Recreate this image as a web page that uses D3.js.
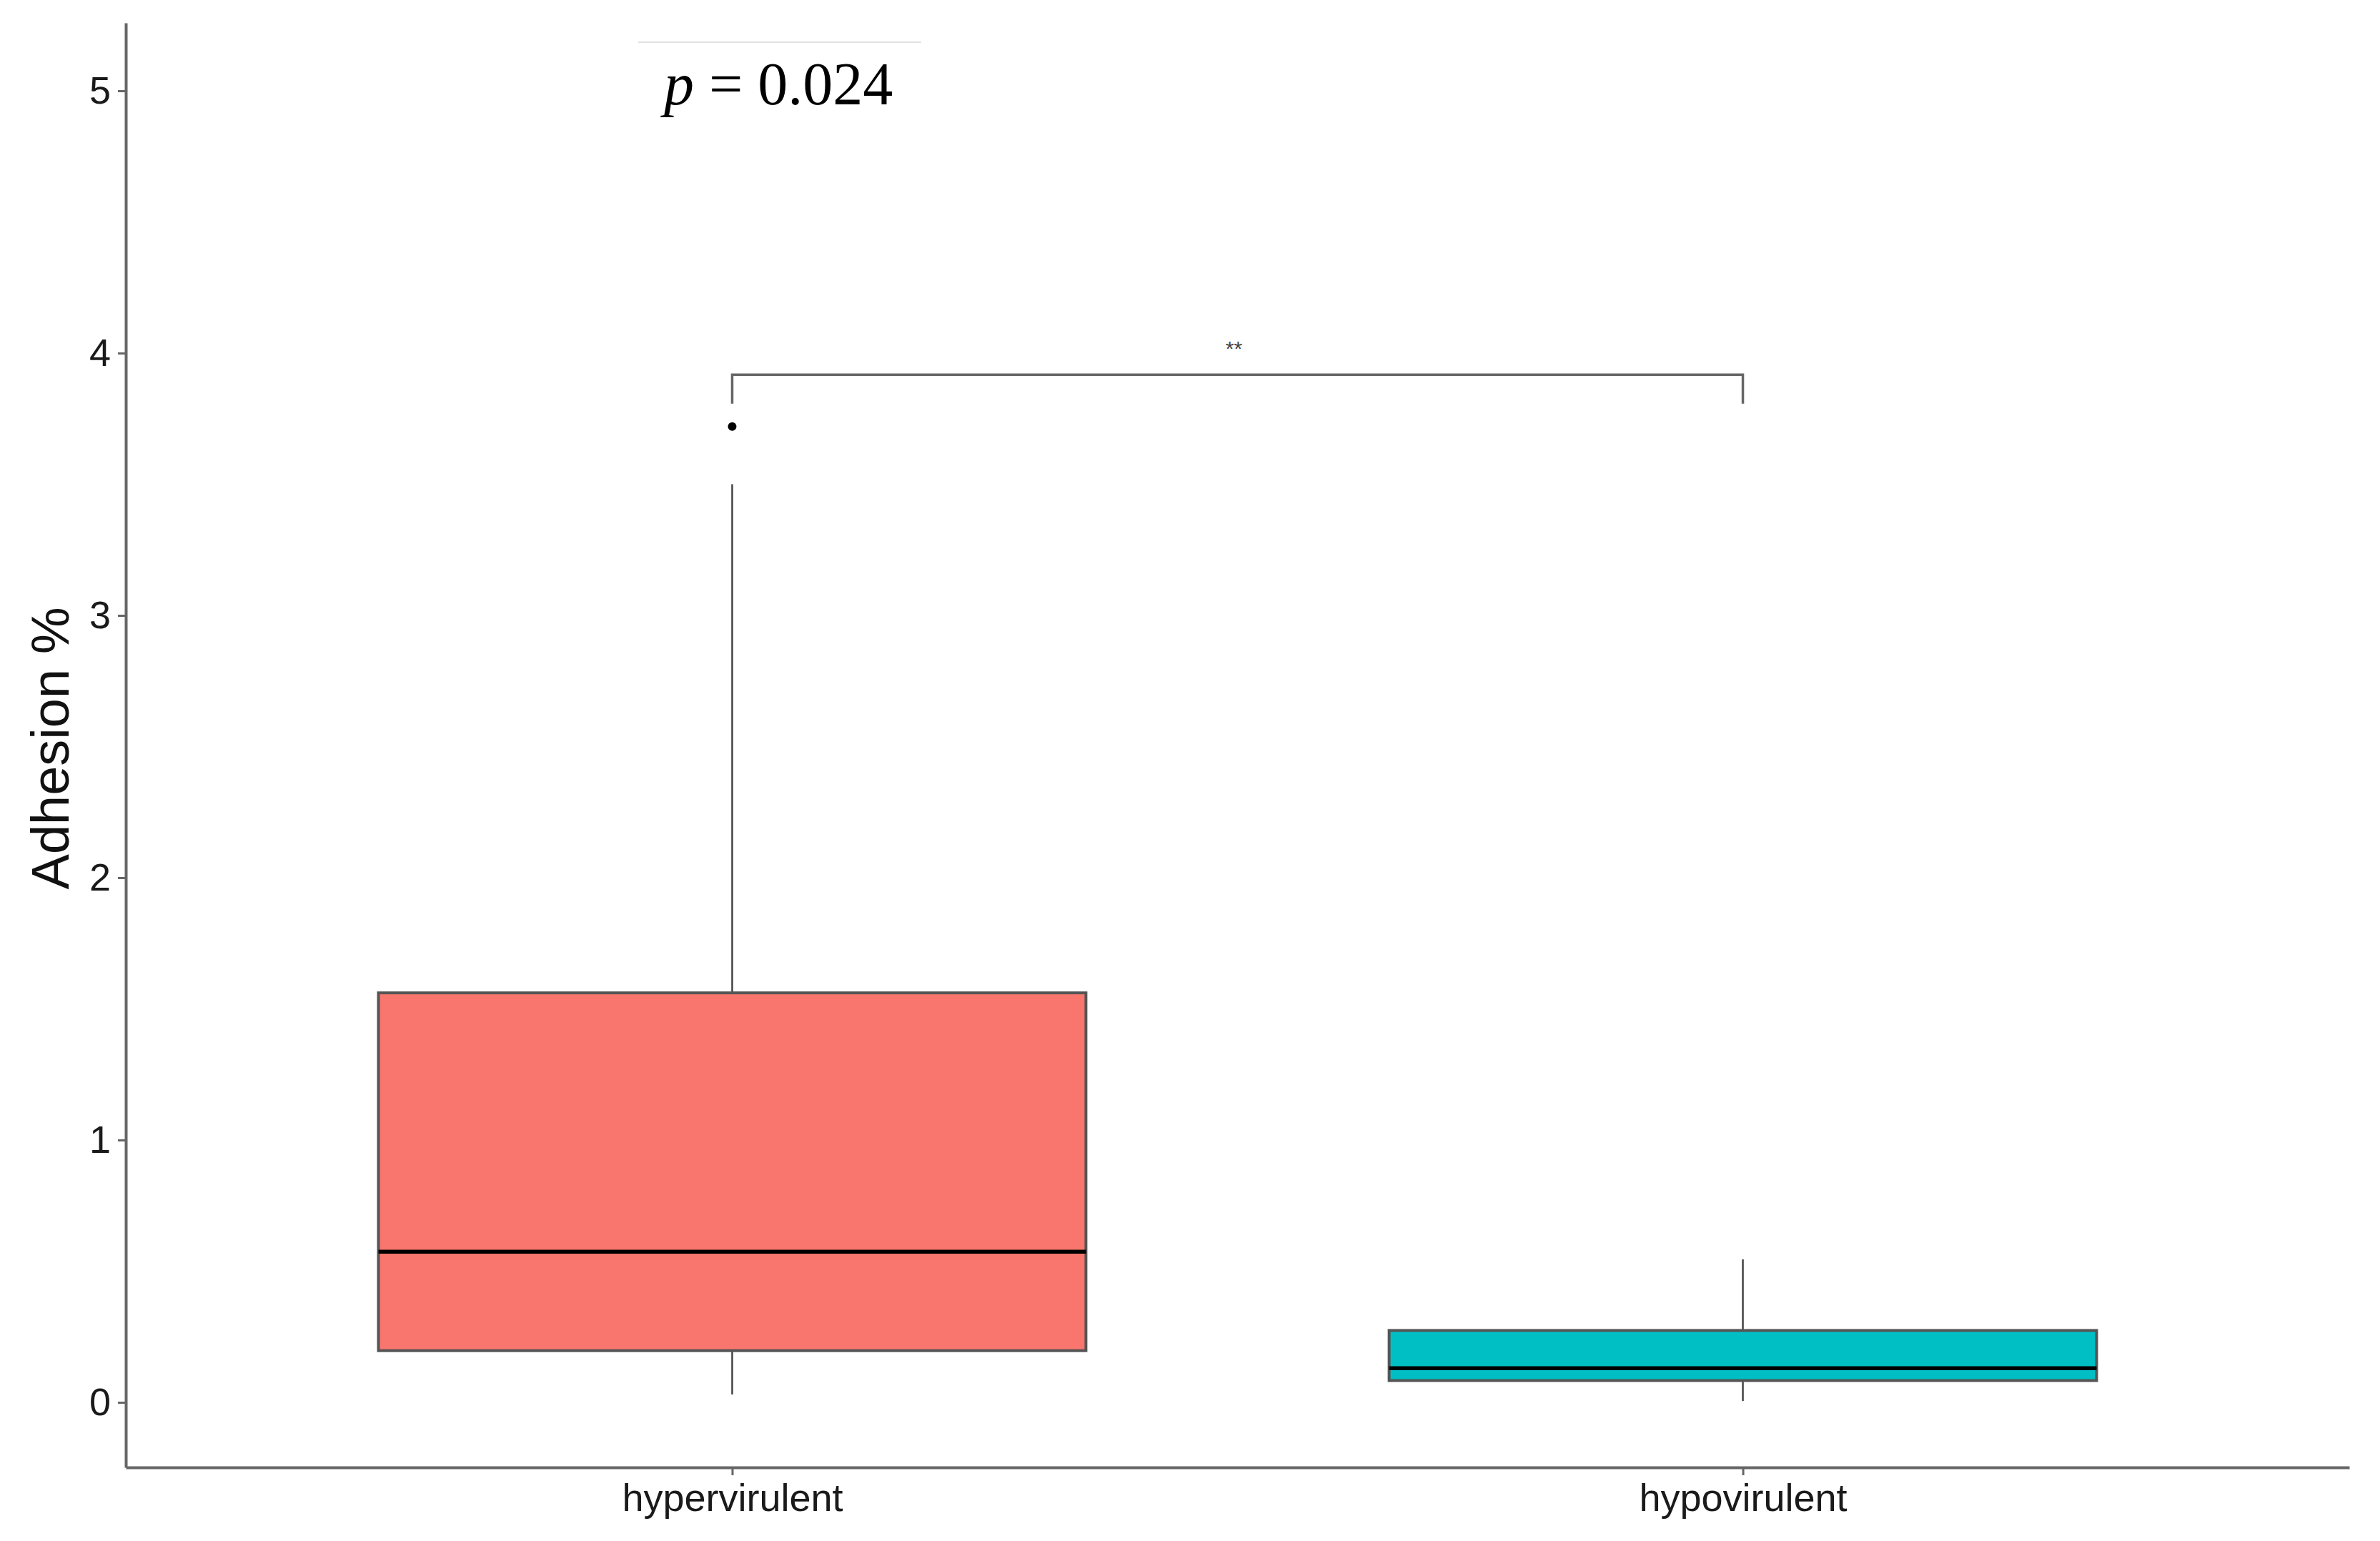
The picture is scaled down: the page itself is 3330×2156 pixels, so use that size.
<!DOCTYPE html>
<html>
<head>
<meta charset="utf-8">
<title>Adhesion boxplot</title>
<script src="https://d3js.org/d3.v7.min.js"></script>
<style>
    body { margin: 0; background: #fff; }
    svg { display: block; }
    .tick-label { font-family: "Liberation Sans", Arial, sans-serif; fill: #1a1a1a; }
</style>
</head>
<body>
<div id="chart"></div>
<script>
// box summaries
const groups = ["hypervirulent", "hypovirulent"];
const lowerWhisker = [0.03, 0.005];
const q1 = [0.197, 0.083];
const median = [0.574, 0.13];
const q3 = [1.561, 0.274];
const upperWhisker = [3.5, 0.545];
const outliers = [[3.72], []];
const fills = ["#F8766D", "#00BFC4"];
const yTicks = [0, 1, 2, 3, 4, 5];

// significance bracket
const bracketTop = 3.918;
const bracketLeg = 3.807;
const sigLabel = "**";
const pText = "0.024";

const width = 3330, height = 2156;
const margin = { top: 32, right: 43, bottom: 103, left: 176 };

const svg = d3.select("#chart").append("svg")
    .attr("width", width)
    .attr("height", height);

const x = d3.scalePoint()
    .domain(groups)
    .range([margin.left, width - margin.right])
    .padding(0.6);

const y = d3.scaleLinear()
    .domain([-0.248, 5.259])
    .range([height - margin.bottom, margin.top]);

const boxW = x.step() * 0.7;

const data = groups.map((g, i) => ({
    g, lo: lowerWhisker[i], q1: q1[i], med: median[i], q3: q3[i],
    hi: upperWhisker[i], out: outliers[i], fill: fills[i]
}));

// axes
const yAxis = svg.append("g")
    .attr("transform", `translate(${margin.left},0)`)
    .call(d3.axisLeft(y).tickValues(yTicks).tickFormat(d3.format("d"))
        .tickSize(11).tickPadding(10).tickSizeOuter(0));
yAxis.select(".domain").attr("stroke", "#666").attr("stroke-width", 4);
yAxis.selectAll(".tick line").attr("stroke", "#666").attr("stroke-width", 3);
yAxis.selectAll(".tick text")
    .attr("class", "tick-label")
    .attr("font-size", 54);

const xAxis = svg.append("g")
    .attr("transform", `translate(0,${height - margin.bottom})`)
    .call(d3.axisBottom(x).tickSize(11).tickPadding(12).tickSizeOuter(0));
xAxis.select(".domain").attr("stroke", "#666").attr("stroke-width", 4);
xAxis.selectAll(".tick line").attr("stroke", "#666").attr("stroke-width", 3);
xAxis.selectAll(".tick text")
    .attr("class", "tick-label")
    .attr("font-size", 54);

// y title
svg.append("text")
    .attr("transform", `translate(${96},${1047}) rotate(-90)`)
    .attr("text-anchor", "middle")
    .attr("font-family", "Liberation Sans, Arial, sans-serif")
    .attr("font-size", 74)
    .attr("fill", "#111")
    .text("Adhesion %");

// boxes
const box = svg.append("g").selectAll("g").data(data).join("g");

box.append("line")
    .attr("x1", d => x(d.g)).attr("x2", d => x(d.g))
    .attr("y1", d => y(d.hi)).attr("y2", d => y(d.q3))
    .attr("stroke", "#444").attr("stroke-width", 2.5);
box.append("line")
    .attr("x1", d => x(d.g)).attr("x2", d => x(d.g))
    .attr("y1", d => y(d.q1)).attr("y2", d => y(d.lo))
    .attr("stroke", "#444").attr("stroke-width", 2.5);

box.append("rect")
    .attr("x", d => x(d.g) - boxW / 2)
    .attr("width", boxW)
    .attr("y", d => y(d.q3))
    .attr("height", d => y(d.q1) - y(d.q3))
    .attr("fill", d => d.fill)
    .attr("stroke", "#555")
    .attr("stroke-width", 4);

box.append("line")
    .attr("x1", d => x(d.g) - boxW / 2).attr("x2", d => x(d.g) + boxW / 2)
    .attr("y1", d => y(d.med)).attr("y2", d => y(d.med))
    .attr("stroke", "#000").attr("stroke-width", 5.5);

box.selectAll("circle").data(d => d.out.map(v => ({ g: d.g, v })))
    .join("circle")
    .attr("cx", d => x(d.g))
    .attr("cy", d => y(d.v))
    .attr("r", 6)
    .attr("fill", "#000");

// significance bracket
const xl = x(groups[0]), xr = x(groups[1]);
svg.append("path")
    .attr("d", `M${xl},${y(bracketLeg)}V${y(bracketTop)}H${xr}V${y(bracketLeg)}`)
    .attr("fill", "none")
    .attr("stroke", "#666")
    .attr("stroke-width", 3.5);

svg.append("text")
    .attr("x", (xl + xr) / 2 - 5)
    .attr("y", y(bracketTop) - 26)
    .attr("text-anchor", "middle")
    .attr("font-family", "Liberation Sans, Arial, sans-serif")
    .attr("font-size", 30)
    .attr("fill", "#444")
    .text(sigLabel);

// p-value annotation
svg.append("line")
    .attr("x1", 893).attr("x2", 1289)
    .attr("y1", 59).attr("y2", 59)
    .attr("stroke", "#e2e2e2").attr("stroke-width", 2);

const pt = svg.append("text")
    .attr("x", 929)
    .attr("y", 146)
    .attr("font-family", "Liberation Serif, Times New Roman, serif")
    .attr("font-size", 84)
    .attr("fill", "#000");
pt.append("tspan").attr("font-style", "italic").text("p");
pt.append("tspan").text(" = " + pText);
</script>
</body>
</html>
